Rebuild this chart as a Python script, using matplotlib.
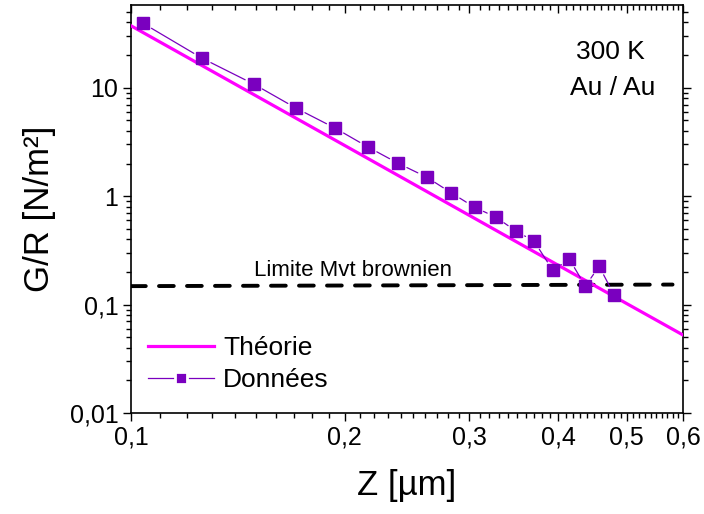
import matplotlib
matplotlib.use('Agg')
import matplotlib.pyplot as plt
from matplotlib.ticker import FixedLocator, MultipleLocator, LogLocator, NullFormatter
from matplotlib.lines import Line2D

plt.rcParams['font.family'] = ['Liberation Sans', 'DejaVu Sans']

# data
z_data = [0.104, 0.126, 0.149, 0.171, 0.194, 0.216, 0.238, 0.261, 0.283, 0.305,
          0.327, 0.349, 0.370, 0.393, 0.415, 0.437, 0.457, 0.480]
g_data = [39.3, 18.7, 10.8, 6.47, 4.24, 2.83, 2.01, 1.50, 1.07, 0.79,
          0.64, 0.475, 0.385, 0.208, 0.262, 0.148, 0.226, 0.122]

z_theo = [0.1, 0.2, 0.3, 0.4, 0.5, 0.6]
g_theo = [37.3, 2.94, 0.664, 0.231, 0.102, 0.0524]

z_limit = [0.1, 0.58]
g_limit = [0.148, 0.153]

x_ticks = [0.1, 0.2, 0.3, 0.4, 0.5, 0.6]
x_labels = ['0,1', '0,2', '0,3', '0,4', '0,5', '0,6']
y_ticks = [0.01, 0.1, 1, 10]
y_labels = ['0,01', '0,1', '1', '10']

magenta = '#ff00ff'
purple = '#7a00bf'

fig = plt.figure(figsize=(7.04, 5.14), dpi=100)
ax = fig.add_axes([131/704, 1-413/514, 552/704, 408/514])
ax.set_xscale('log')
ax.set_yscale('log')

ax.plot(z_theo, g_theo, color=magenta, lw=2.3, zorder=3)
ax.plot(z_limit, g_limit, color='black', lw=2.8, dashes=(3.8, 3.4),
        dash_capstyle='round', zorder=2)

# data line with gaps around the markers
for i in range(len(z_data) - 1):
    ax.annotate('', xy=(z_data[i+1], g_data[i+1]), xytext=(z_data[i], g_data[i]),
                arrowprops=dict(arrowstyle='-', color=purple, lw=0.9,
                                shrinkA=7, shrinkB=7), zorder=4)
ax.plot(z_data, g_data, ls='none', marker='s', ms=8.5, color=purple,
        mec=purple, zorder=5)

ax.set_xlim(0.1, 0.6)
ax.set_ylim(0.01, 58)

ax.xaxis.set_major_locator(FixedLocator(x_ticks))
ax.set_xticklabels(x_labels)
ax.xaxis.set_minor_locator(MultipleLocator(0.01))
ax.xaxis.set_minor_formatter(NullFormatter())
ax.yaxis.set_major_locator(FixedLocator(y_ticks))
ax.set_yticklabels(y_labels)
ax.yaxis.set_minor_locator(LogLocator(base=10, subs=range(2, 10)))
ax.yaxis.set_minor_formatter(NullFormatter())

ax.tick_params(which='both', direction='out', labelsize=18, width=1.0, pad=3)
ax.tick_params(which='major', length=6)
ax.tick_params(which='minor', length=3.5)
ax.tick_params(axis='x', which='both', top=True)
ax.tick_params(axis='y', which='both', right=True)
for tk in ax.xaxis.get_major_ticks() + ax.xaxis.get_minor_ticks():
    tk.tick2line.set_marker(3)
for tk in ax.yaxis.get_major_ticks() + ax.yaxis.get_minor_ticks():
    tk.tick2line.set_marker(1)
for sp in ax.spines.values():
    sp.set_linewidth(1.2)

ax.set_xlabel('Z [µm]', fontsize=25, labelpad=14)
ax.set_ylabel('G/R [N/m²]', fontsize=25, labelpad=10)

ax.text(0.868, 0.868, '300 K', transform=ax.transAxes, fontsize=19,
        ha='center', va='baseline')
ax.text(0.872, 0.779, 'Au / Au', transform=ax.transAxes, fontsize=19,
        ha='center', va='baseline')
ax.text(0.223, 0.336, 'Limite Mvt brownien', transform=ax.transAxes,
        fontsize=16, ha='left', va='baseline')

handles = [Line2D([], [], color=magenta, lw=2.3),
           Line2D([], [], color=purple, lw=0.9, marker='s', ms=8.5,
                  mec='white', mew=2)]
ax.legend(handles, ['Théorie', 'Données'], loc='center left',
          bbox_to_anchor=(0.031, 0.119), frameon=False, fontsize=19,
          handlelength=2.5, handletextpad=0.35, labelspacing=0.3,
          borderpad=0, borderaxespad=0)

fig.savefig('out.png', dpi=100)
